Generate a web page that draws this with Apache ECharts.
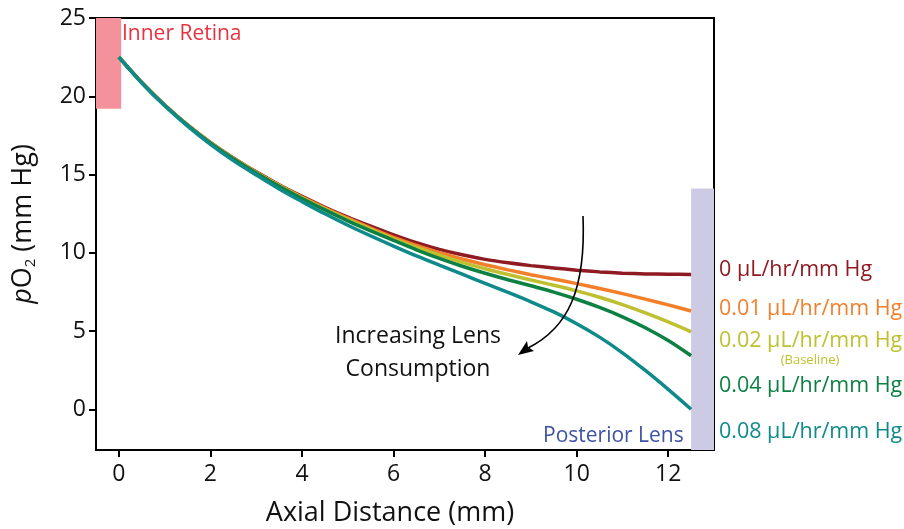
<!DOCTYPE html>
<html>
<head>
<meta charset="utf-8">
<script src="https://cdn.jsdelivr.net/npm/echarts@6/dist/echarts.min.js"></script>
<style>
  html, body { margin: 0; padding: 0; background: #fff; }
  #chart { width: 904px; height: 529px; }
</style>
</head>
<body>
<div id="chart"></div>
<script>
// Axial distance from the inner retina (mm), every 0.5 mm
const distance = [0, 0.5, 1, 1.5, 2, 2.5, 3, 3.5, 4, 4.5, 5, 5.5, 6, 6.5, 7, 7.5, 8, 8.5, 9, 9.5, 10, 10.5, 11, 11.5, 12, 12.5];

// Vitreous pO2 (mm Hg) for each lens oxygen consumption rate
const po2_0   = [22.5, 20.88, 19.44, 18.17, 17.05, 16.06, 15.17, 14.35, 13.60, 12.91, 12.28, 11.70, 11.15, 10.65, 10.22, 9.87, 9.58, 9.36, 9.18, 9.03, 8.89, 8.78, 8.70, 8.65, 8.63, 8.62];
const po2_001 = [22.5, 20.88, 19.44, 18.16, 17.04, 16.05, 15.15, 14.32, 13.56, 12.86, 12.21, 11.58, 10.99, 10.47, 10.00, 9.60, 9.24, 8.91, 8.60, 8.32, 8.03, 7.72, 7.39, 7.04, 6.67, 6.28];
const po2_002 = [22.5, 20.88, 19.43, 18.15, 17.03, 16.03, 15.13, 14.29, 13.52, 12.81, 12.13, 11.50, 10.89, 10.35, 9.85, 9.39, 8.98, 8.61, 8.26, 7.93, 7.57, 7.16, 6.69, 6.16, 5.58, 4.95];
const po2_004 = [22.5, 20.87, 19.42, 18.14, 17.01, 16.01, 15.10, 14.25, 13.47, 12.74, 12.04, 11.40, 10.79, 10.19, 9.64, 9.14, 8.69, 8.28, 7.89, 7.49, 7.03, 6.51, 5.91, 5.21, 4.39, 3.42];
const po2_008 = [22.5, 20.85, 19.39, 18.09, 16.93, 15.89, 14.97, 14.08, 13.27, 12.49, 11.76, 11.08, 10.43, 9.80, 9.21, 8.63, 8.05, 7.47, 6.87, 6.22, 5.47, 4.61, 3.61, 2.48, 1.27, 0.00];

const seriesNames  = ['0 μL/hr/mm Hg', '0.01 μL/hr/mm Hg', '0.02 μL/hr/mm Hg', '0.04 μL/hr/mm Hg', '0.08 μL/hr/mm Hg'];
const seriesValues = [po2_0, po2_001, po2_002, po2_004, po2_008];
const seriesColors = ['#8f1a22', '#f37f2a', '#bfc02f', '#0d8143', '#0f8a8a'];

// Tick values
const xTicks = [0, 2, 4, 6, 8, 10, 12];
const yTicks = [0, 5, 10, 15, 20, 25];

// Tissue regions at the ends of the vitreous
const retinaRegion = { x: [-0.5, 0.05], y: [19.2, 25] };
const lensRegion   = { x: [12.5, 13], y: [-2.6, 14.1] };

const FONT = '"Open Sans", "Noto Sans", sans-serif';

const chart = echarts.init(document.getElementById('chart'), null, { renderer: 'canvas' });

const lineSeries = seriesValues.map((vals, i) => ({
  name: seriesNames[i],
  type: 'line',
  data: distance.map((d, k) => [d, vals[k]]),
  smooth: 0.3,
  showSymbol: false,
  lineStyle: { color: seriesColors[i], width: 3.5 },
  z: 5 + i
}));

const regionSeries = {
  type: 'line',
  data: [],
  silent: true,
  z: 1,
  markArea: {
    silent: true,
    data: [
      [
        { xAxis: retinaRegion.x[0], yAxis: retinaRegion.y[0], itemStyle: { color: '#f3929a', opacity: 1 } },
        { xAxis: retinaRegion.x[1], yAxis: retinaRegion.y[1] }
      ],
      [
        { xAxis: lensRegion.x[0], yAxis: lensRegion.y[0], itemStyle: { color: '#cdcbe3', opacity: 1 } },
        { xAxis: lensRegion.x[1], yAxis: lensRegion.y[1] }
      ]
    ]
  }
};

function labelText(text, x, y, color, size, align) {
  return {
    type: 'text',
    x: x, y: y, z: 100,
    style: {
      text: text,
      fill: color,
      font: size + 'px ' + FONT,
      align: align || 'left',
      verticalAlign: 'middle'
    }
  };
}

const option = {
  animation: false,
  backgroundColor: '#ffffff',
  grid: {
    left: 96, right: 190, top: 18, bottom: 79,
    outerBoundsMode: 'none',
    containLabel: false,
    show: true, borderColor: '#000', borderWidth: 2, backgroundColor: 'transparent'
  },
  xAxis: {
    type: 'value',
    min: -0.5, max: 13,
    name: 'Axial Distance (mm)',
    nameLocation: 'middle',
    nameGap: 50,
    nameTextStyle: { fontFamily: FONT, fontSize: 27, color: '#111', padding: [0, 30, 0, 0] },
    axisLine: { show: true, onZero: false, lineStyle: { color: '#000', width: 2 } },
    axisTick: { show: true, length: 7, lineStyle: { color: '#000', width: 2 }, customValues: xTicks },
    axisLabel: { fontFamily: FONT, fontSize: 23, color: '#111', margin: 13, customValues: xTicks },
    splitLine: { show: false }
  },
  yAxis: {
    type: 'value',
    min: -2.6, max: 25,
    name: '{i|p}O{s|2} (mm Hg)',
    nameLocation: 'middle',
    nameGap: 58,
    nameRotate: 90,
    nameTextStyle: {
      fontFamily: FONT, fontSize: 27, color: '#111',
      padding: [0, 0, 0, 20],
      rich: {
        i: { fontFamily: FONT, fontSize: 27, fontStyle: 'italic', color: '#111' },
        s: { fontFamily: FONT, fontSize: 15, color: '#111', verticalAlign: 'bottom', padding: [14, 0, 0, 0] }
      }
    },
    axisLine: { show: true, onZero: false, lineStyle: { color: '#000', width: 2 } },
    axisTick: { show: true, length: 7, lineStyle: { color: '#000', width: 2 }, customValues: yTicks },
    axisLabel: { fontFamily: FONT, fontSize: 23, color: '#111', margin: 10, customValues: yTicks },
    splitLine: { show: false }
  },
  series: [regionSeries].concat(lineSeries),
  graphic: [
    labelText('Inner Retina', 122, 34, '#e8323f', 21),
    labelText('Posterior Lens', 543, 436, '#3f52a4', 21),
    labelText('Increasing Lens', 418, 336, '#111', 23, 'center'),
    labelText('Consumption', 418, 369, '#111', 23, 'center'),
    labelText(seriesNames[0], 719, 270, seriesColors[0], 21.5),
    labelText(seriesNames[1], 719, 309, seriesColors[1], 21.5),
    labelText(seriesNames[2], 719, 341, seriesColors[2], 21.5),
    labelText('(Baseline)', 810, 360, seriesColors[2], 13, 'center'),
    labelText(seriesNames[3], 719, 386, seriesColors[3], 21.5),
    labelText(seriesNames[4], 719, 432, seriesColors[4], 21.5),
    {
      type: 'bezierCurve', z: 100,
      shape: { x1: 583, y1: 216, x2: 528, y2: 348, cpx1: 586, cpy1: 290, cpx2: 568, cpy2: 328 },
      style: { stroke: '#000', lineWidth: 1.6, fill: null }
    },
    {
      type: 'polygon', z: 100,
      shape: { points: [[518, 355], [527, 341], [528, 347], [534, 351]] },
      style: { fill: '#000' }
    }
  ]
};

chart.setOption(option);
</script>
</body>
</html>
